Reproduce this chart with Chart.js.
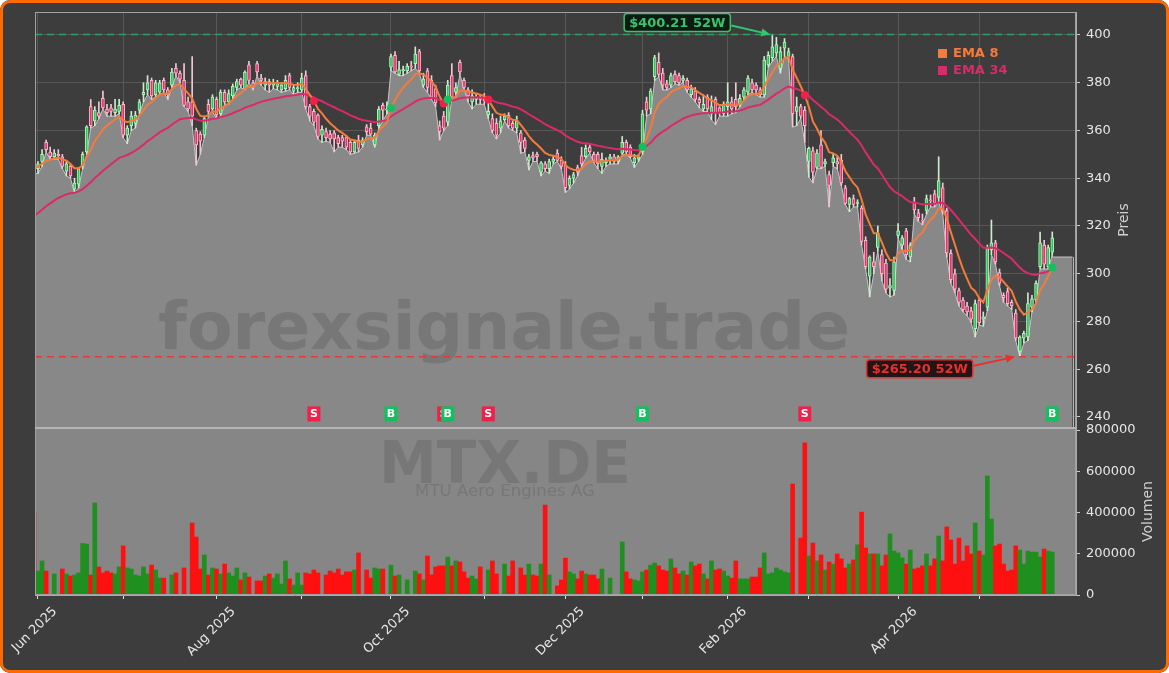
<!DOCTYPE html>
<html>
<head>
<meta charset="utf-8">
<script src="https://cdn.jsdelivr.net/npm/chart.js@4.4.1/dist/chart.umd.min.js"></script>
<style>
  html, body { margin: 0; padding: 0; background: #ffffff; }
  #wrap { position: relative; width: 1169px; height: 673px; border-radius: 10px; overflow: hidden; background: #3d3d3d; }
  #wrap canvas { position: absolute; left: 0; top: 0; }
  #frame { position: absolute; left: 0; top: 0; width: 1169px; height: 673px; box-sizing: border-box;
           border: 3px solid #ff6a00; border-radius: 10px; pointer-events: none; }
</style>
</head>
<body>
<div id="wrap"><canvas id="chart" width="1169" height="673"></canvas><div id="frame"></div></div>
<script>
// trading day index of the first candle (30 May 2025), one row per 10 days
var firstIdx = -1;

var opens = [346,
  344, 347, 355, 351, 349, 350, 349, 343, 345, 335.5,
  337.5, 345, 351, 370, 364, 367.5, 373.5, 369, 369.5, 367.5,
  368, 371, 358, 362, 363, 368.5, 375, 377, 381, 375,
  376, 381, 377, 379, 386, 384, 381, 372, 372, 360,
  358.5, 358, 371, 369, 373, 367, 376, 372, 374.5, 378,
  381.5, 377.5, 387.5, 380, 388, 382, 379, 380.5, 379, 378.5,
  377, 377.5, 383, 376.5, 377.5, 377, 383, 370, 368, 366.5,
  358, 359.5, 358.5, 359, 357, 357, 357, 355, 351, 356,
  354, 361.5, 361, 354, 362, 370.5, 368.5, 386.5, 391.5, 383.5,
  385, 385, 387, 388, 393, 379, 385, 381, 377.5, 362,
  366, 363.5, 383, 376, 388.5, 381, 377, 372, 373, 374,
  373, 366.5, 365, 363, 361, 364.5, 366.5, 363, 361, 359,
  356, 347.5, 349.5, 350, 342.5, 346, 344, 347, 350.5, 347.5,
  345.5, 337, 340, 344.5, 349.5, 349, 353, 350, 350, 345,
  346.5, 348, 349, 347, 350.5, 355, 353, 346.5, 348, 351,
  372, 369, 382.5, 388.5, 384, 379.5, 379, 383.5, 383, 381,
  381, 375, 376.5, 373, 369, 374, 367, 373, 369.5, 367,
  370, 372, 373, 371, 374, 376, 380, 379, 377, 375,
  387.5, 390.5, 392.5, 386, 394.5, 391, 391, 368, 370, 368.5,
  347, 351.5, 344.5, 354, 346, 341.5, 346.5, 347, 347.5, 336,
  329, 331.5, 329.5, 327.5, 314, 299, 305, 311, 308, 304.5,
  294, 293, 316, 312, 318, 307, 330, 325.5, 322.5, 326.5,
  331, 333.5, 332, 336, 326.5, 308.5, 300, 293, 289, 286.5,
  284.5, 277, 289, 281, 286, 310, 313, 300.5, 291, 292.5,
  288, 283.5, 267.5, 273, 273.5, 286, 289, 303, 312, 303, 309];

var highs = [347,
  347, 352, 356, 353, 352, 352, 350, 347, 346, 340,
  344.5, 351, 362, 373, 370, 372, 376.5, 371, 371, 373,
  373, 372, 362, 368, 368, 373, 380, 383, 382, 381,
  381, 382, 378, 386, 388, 385, 388, 374, 391, 361,
  359.5, 366, 373, 375, 374, 377, 377, 377, 379.5, 381.5,
  382, 385, 389, 381, 389, 383.5, 382, 381.5, 381.5, 381,
  380, 383, 384, 379, 380, 384, 385, 371, 369, 367,
  362, 361, 360, 360, 358, 358, 358, 356, 356, 358,
  357, 362.5, 363, 359, 370, 371.5, 372, 392, 393, 389,
  387, 388, 389, 395, 394, 384, 386, 383, 379, 364,
  368, 381, 388, 380, 389.5, 382, 378, 377, 375, 375,
  375.5, 374, 367, 365, 366, 367, 367.5, 364, 366, 360,
  357, 350, 351, 351, 347, 347, 348, 349, 352, 349,
  347, 341, 342.5, 345.5, 353, 354, 354, 351, 351, 350.5,
  348.5, 350, 350, 349.5, 357.5, 356, 354, 350, 350, 368.5,
  374, 377.5, 391.5, 392.5, 386, 381, 384, 385, 384, 383,
  382, 379, 378, 374, 375, 375, 374.5, 374, 370, 372,
  380, 374, 380, 375, 378, 383, 381.5, 380, 378, 391,
  393, 400.21, 399, 395, 398.5, 394.5, 392, 374, 371, 370,
  353, 353, 352, 360, 348, 343, 350, 349, 350, 337,
  332, 333, 331, 328.5, 315.5, 307.5, 309, 320, 310, 306,
  298, 307, 321, 316, 319, 313, 332, 327, 325, 333,
  333, 335, 349, 338, 327.5, 310, 302, 294, 290, 288,
  286, 289, 290, 284, 312, 322.5, 314, 302, 292, 294,
  289, 285, 274, 276, 292, 291, 297, 317.5, 314, 312, 317.5];

var lows = [342,
  342, 345, 351, 348, 348, 348, 344, 341, 340, 334,
  336, 344, 350, 361, 362, 365, 369, 366, 366, 366,
  367, 357, 354.5, 360, 361, 367, 372, 375, 373, 374,
  375, 376, 373, 378, 383, 380, 370, 368, 362, 345.5,
  350, 357, 366, 368, 365, 366, 371, 371, 373, 377,
  378, 377, 380, 377, 383, 379, 377, 376, 377.5, 377,
  376, 376.5, 377, 375, 376, 376, 369, 364, 362, 356.5,
  355, 355.5, 355, 351, 353, 353, 352, 350, 350.5, 351,
  353, 358, 358, 353, 361, 364, 367, 385, 384, 383,
  383, 384, 385, 386, 384, 378, 376, 373, 370, 356,
  360, 362, 373, 374, 383.5, 377.5, 372, 369, 371, 371,
  371, 365, 359, 356.5, 359, 364, 361, 360, 359, 350.5,
  351, 343.5, 347, 347, 341, 343, 342, 346, 347, 344,
  334, 335.5, 338, 341, 345, 348.5, 350.5, 346.5, 344, 342,
  345, 346, 346, 346, 350, 350, 348.5, 344.5, 347, 350,
  366, 367, 381, 382.5, 377, 377, 378, 379.5, 379, 380,
  376, 374, 372, 369.5, 368, 368, 364.5, 362.5, 366, 366,
  366, 367, 367.5, 370, 373, 375, 376, 375, 374, 374,
  386.5, 389, 391, 384, 391, 390, 361.5, 362, 365, 355,
  340.5, 338, 344, 344, 345, 328, 345, 344, 337, 329,
  326, 328, 328, 312, 302, 290.3, 300, 309.5, 297, 292,
  290.3, 291, 315, 310, 306, 305, 325, 322, 320.5, 325,
  328, 328, 330, 325, 307, 296, 292, 286.5, 284, 282.5,
  279.5, 273.5, 278.5, 278, 284.5, 308, 304, 295, 288, 286.5,
  285, 272, 265.2, 271, 272, 284, 288, 302, 302, 302, 308];

var closes = [343.5,
  346, 350, 352, 349, 350.5, 349.5, 345, 346, 341, 338,
  344, 350, 361.5, 362, 368.5, 366, 369.5, 367.5, 368, 369,
  370.5, 358, 361, 366, 366.5, 372, 376, 380, 374.5, 380,
  380, 377, 375, 384.5, 384, 381.5, 370.5, 369, 366, 354,
  355.5, 365, 368, 374, 366.5, 376, 372, 375.5, 378.5, 380.5,
  379, 384.5, 381, 378.5, 384.5, 381, 380.5, 379, 380, 380,
  379, 381, 378, 378, 378, 382, 370, 366, 363.5, 357.5,
  360.5, 357, 356.5, 356.5, 354.5, 355.5, 353, 351, 355, 352.5,
  356, 359.5, 358.5, 358, 369, 368.5, 369, 391, 384.5, 385.5,
  385.5, 387, 386.5, 392, 385, 381.5, 378, 374, 371.5, 359.5,
  361, 379, 374, 378, 384.5, 378, 374.5, 374.5, 374, 373,
  372.5, 368, 360, 358, 364, 366, 362, 361, 364, 355,
  352.5, 349, 348.5, 349, 346.5, 344, 347, 348, 347.5, 345,
  336, 340, 341.5, 342.5, 346, 352.5, 351, 347.5, 346, 348,
  347.5, 349, 347, 349, 355, 351, 349, 348.5, 349, 367,
  368.5, 376.5, 390.5, 383.5, 379, 378, 383, 380.5, 380, 382,
  377, 377.5, 373, 371.5, 371, 369, 370, 367.5, 367.5, 371,
  372, 369, 370, 373.5, 377, 382, 377, 377, 375, 389.5,
  391.5, 395, 396, 393, 397, 393, 367, 370, 366, 362,
  352.5, 342.5, 350.5, 344.5, 347, 337, 348.5, 346, 338, 329.5,
  331.5, 329, 330, 313.5, 303, 307, 303, 317, 300, 293.5,
  295, 305, 318, 315, 308, 312, 326.7, 323.5, 322, 331.5,
  330.5, 329.5, 339, 326.5, 308.7, 297.5, 293.5, 288, 285, 284,
  281, 287.5, 279.5, 282, 311, 313, 305, 296, 290, 287.5,
  286.5, 273, 273.5, 275, 287.5, 289.5, 296, 313, 304, 311, 315];

var volumes = [404000,
  116000, 165000, 116000, 0, 102000, 0, 126000, 102000, 92000, 97000,
  107000, 250000, 247000, 97000, 446000, 136000, 107000, 116000, 107000, 102000,
  136000, 238000, 131000, 126000, 97000, 92000, 136000, 102000, 145000, 121000,
  82000, 82000, 0, 97000, 107000, 0, 131000, 0, 349000, 281000,
  126000, 194000, 97000, 131000, 126000, 102000, 150000, 107000, 92000, 131000,
  73000, 107000, 87000, 0, 68000, 68000, 92000, 102000, 82000, 102000,
  53000, 165000, 78000, 48000, 107000, 48000, 107000, 102000, 121000, 107000,
  0, 97000, 116000, 107000, 126000, 97000, 112000, 112000, 121000, 204000,
  0, 121000, 82000, 131000, 126000, 126000, 0, 145000, 92000, 97000,
  0, 73000, 0, 116000, 102000, 73000, 189000, 97000, 136000, 141000,
  141000, 184000, 141000, 165000, 160000, 112000, 82000, 92000, 78000, 136000,
  0, 121000, 165000, 102000, 0, 150000, 92000, 165000, 0, 131000,
  97000, 150000, 97000, 92000, 150000, 436000, 97000, 0, 44000, 73000,
  179000, 112000, 102000, 78000, 116000, 102000, 97000, 97000, 78000, 126000,
  0, 82000, 0, 0, 257000, 112000, 78000, 73000, 68000, 112000,
  121000, 145000, 155000, 141000, 121000, 116000, 175000, 131000, 102000, 116000,
  97000, 160000, 141000, 150000, 102000, 78000, 165000, 121000, 126000, 116000,
  92000, 82000, 165000, 78000, 78000, 78000, 87000, 87000, 131000, 204000,
  102000, 107000, 131000, 121000, 112000, 107000, 538000, 0, 276000, 738000,
  189000, 252000, 165000, 194000, 121000, 160000, 150000, 199000, 175000, 131000,
  150000, 170000, 243000, 402000, 228000, 199000, 199000, 199000, 141000, 194000,
  296000, 213000, 204000, 180000, 150000, 218000, 126000, 131000, 141000, 199000,
  141000, 175000, 286000, 165000, 330000, 267000, 150000, 276000, 165000, 238000,
  199000, 349000, 213000, 194000, 577000, 368000, 238000, 247000, 150000, 116000,
  121000, 238000, 218000, 150000, 213000, 208000, 208000, 184000, 223000, 213000, 208000];

// first trading day of each month, labels on every second month
var monthTicks = [0, 21, 44, 65, 87, 110, 130, 149, 170, 190, 212, 232];
var monthLabels = ['Jun 2025', '', 'Aug 2025', '', 'Oct 2025', '', 'Dec 2025', '', 'Feb 2026', '', 'Apr 2026', ''];
var priceTicks = [240, 260, 280, 300, 320, 340, 360, 380, 400];
var volumeTicks = [0, 200000, 400000, 600000, 800000];

// EMA crossing signals
var signalIdx = [68, 87, 100, 101, 111, 149, 189, 250];
var signalType = ['S', 'B', 'S', 'B', 'S', 'B', 'S', 'B'];

// price band after the last candle
var tailEnd = 255;
var tailLevel = 307;

// EMA start values carried over from before the window
var ema8Seed = 345;
var ema34Seed = 323;

var UP = '#2fc45c', DOWN = '#e5336a';
var EMA8_COLOR = '#f47b3a', EMA34_COLOR = '#db2a69';

function ema(values, period, seed) {
  var a = 2 / (period + 1), e = seed;
  return values.map(function(v) { e = a * v + (1 - a) * e; return e; });
}

var ema8 = ema(closes, 8, ema8Seed);
var ema34 = ema(closes, 34, ema34Seed);
var isUp = closes.map(function(c, i) { return c >= opens[i]; });
function xy(arr) { return arr.map(function(v, i) { return { x: i + firstIdx, y: v }; }); }
var lastIdx = firstIdx + closes.length - 1;
var areaPoints = xy(lows).concat([{ x: lastIdx, y: tailLevel }, { x: tailEnd, y: tailLevel }]);

var decor = {
  id: 'decor',
  beforeDatasetsDraw: function(chart) {
    var ctx = chart.ctx, a = chart.chartArea, yv = chart.scales.yv;
    ctx.save();
    ctx.fillStyle = '#868686';
    ctx.fillRect(a.left, yv.top, a.right - a.left, yv.bottom - yv.top);
    ctx.restore();
  },
  afterDatasetsDraw: function(chart) {
    var ctx = chart.ctx, a = chart.chartArea, x = chart.scales.x, y = chart.scales.y;
    ctx.save();
    // right edge of the band after the last candle
    var ex = Math.round(x.getPixelForValue(tailEnd)) + 0.5;
    ctx.strokeStyle = '#b8b8b8'; ctx.lineWidth = 1;
    ctx.beginPath(); ctx.moveTo(ex, y.getPixelForValue(tailLevel)); ctx.lineTo(ex, y.bottom); ctx.stroke();

    // watermark
    function fit(text, weight, width, cx, baseY, color) {
      ctx.font = weight + ' 100px "DejaVu Sans"';
      var size = 100 * width / ctx.measureText(text).width;
      ctx.font = weight + ' ' + size + 'px "DejaVu Sans"';
      ctx.fillStyle = color;
      ctx.textAlign = 'center';
      ctx.textBaseline = 'alphabetic';
      ctx.fillText(text, cx, baseY);
    }
    fit('forexsignale.trade', 'bold', 692, 504, 349, 'rgba(60,60,60,0.22)');
    fit('MTX.DE', 'bold', 252, 505, 483, 'rgba(60,60,60,0.2)');
    fit('MTU Aero Engines AG', 'normal', 180, 505, 496, 'rgba(60,60,60,0.2)');

    // 52 week high / low
    var hi = Math.max.apply(null, highs), lo = Math.min.apply(null, lows);
    var hiI = highs.indexOf(hi) + firstIdx, loI = lows.indexOf(lo) + firstIdx;
    function hline(v, color) {
      ctx.beginPath();
      ctx.setLineDash([7, 5]);
      ctx.lineWidth = 1.5;
      ctx.strokeStyle = color;
      var py = y.getPixelForValue(v);
      ctx.moveTo(a.left, py); ctx.lineTo(a.right, py);
      ctx.stroke();
      ctx.setLineDash([]);
    }
    hline(hi, '#2f9e5f');
    hline(lo, '#e03a3a');

    function tag(text, bx, cy, fg, bg, tipX, tipY) {
      ctx.font = 'bold 13px "DejaVu Sans"';
      var w = ctx.measureText(text).width + 10, h = 18;
      var left = bx - w;
      ctx.beginPath();
      ctx.roundRect(left, cy - h / 2, w, h, 3);
      ctx.fillStyle = bg; ctx.fill();
      ctx.lineWidth = 1.5; ctx.strokeStyle = fg; ctx.stroke();
      ctx.fillStyle = fg; ctx.textAlign = 'center'; ctx.textBaseline = 'middle';
      ctx.fillText(text, left + w / 2, cy + 1);
      // arrow
      var sx = bx + 1, sy = cy + (tipY > cy ? 3 : -3);
      var ang = Math.atan2(tipY - sy, tipX - sx);
      ctx.beginPath(); ctx.lineWidth = 2; ctx.strokeStyle = fg;
      ctx.moveTo(sx, sy); ctx.lineTo(tipX - 6 * Math.cos(ang), tipY - 6 * Math.sin(ang)); ctx.stroke();
      ctx.beginPath(); ctx.fillStyle = fg;
      ctx.moveTo(tipX, tipY);
      ctx.lineTo(tipX - 9 * Math.cos(ang) + 4 * Math.sin(ang), tipY - 9 * Math.sin(ang) - 4 * Math.cos(ang));
      ctx.lineTo(tipX - 9 * Math.cos(ang) - 4 * Math.sin(ang), tipY - 9 * Math.sin(ang) + 4 * Math.cos(ang));
      ctx.closePath(); ctx.fill();
    }
    var hx = x.getPixelForValue(hiI) - 2, hy = y.getPixelForValue(hi);
    tag('$' + hi.toFixed(2) + ' 52W', hx - 40, hy - 12, '#35c46f', '#0f1a13', hx, hy);
    var lx = x.getPixelForValue(loI) - 5, ly = y.getPixelForValue(lo);
    tag('$' + lo.toFixed(2) + ' 52W', lx - 42, ly + 12, '#e8302f', '#231515', lx, ly);

    // signal dots on the EMA 8 and markers at the bottom of the price panel
    signalIdx.forEach(function(si, k) {
      var col = signalType[k] === 'S' ? '#f0204a' : '#12c05e';
      var px = x.getPixelForValue(si), py = y.getPixelForValue(ema8[si - firstIdx]);
      ctx.beginPath(); ctx.arc(px, py, 4, 0, Math.PI * 2); ctx.fillStyle = col; ctx.fill();
      var my = y.getPixelForValue(241.3);
      ctx.fillStyle = col;
      ctx.fillRect(px - 6.5, my - 7.5, 13, 15);
      ctx.fillStyle = '#ffffff'; ctx.font = 'bold 11px "DejaVu Sans"';
      ctx.textAlign = 'center'; ctx.textBaseline = 'middle';
      ctx.fillText(signalType[k], px, my + 0.5);
    });

    // legend
    ctx.font = 'bold 13px "DejaVu Sans"'; ctx.textAlign = 'left'; ctx.textBaseline = 'middle';
    ctx.fillStyle = EMA8_COLOR; ctx.fillRect(938, 49, 9, 9); ctx.fillText('EMA 8', 953, 54);
    ctx.fillStyle = EMA34_COLOR; ctx.fillRect(938, 66, 9, 9); ctx.fillText('EMA 34', 953, 71);

    // frame
    ctx.strokeStyle = '#a0a0a0'; ctx.lineWidth = 1;
    ctx.strokeRect(a.left + 0.5, a.top + 0.5, a.right - a.left - 1, a.bottom - a.top - 1);
    ctx.strokeStyle = '#b4b4b4'; ctx.lineWidth = 2;
    ctx.beginPath(); ctx.moveTo(a.left, y.bottom); ctx.lineTo(a.right, y.bottom); ctx.stroke();
    ctx.restore();
  },
  afterDraw: function(chart) {
    var ctx = chart.ctx, y = chart.scales.y, yv = chart.scales.yv;
    ctx.save();
    ctx.fillStyle = '#d0d0d0'; ctx.font = '14px "DejaVu Sans"';
    ctx.textAlign = 'center'; ctx.textBaseline = 'middle';
    [['Preis', 1124, (y.top + y.bottom) / 2], ['Volumen', 1148, (yv.top + yv.bottom) / 2]].forEach(function(t) {
      ctx.save(); ctx.translate(t[1], t[2]); ctx.rotate(-Math.PI / 2); ctx.fillText(t[0], 0, 0); ctx.restore();
    });
    ctx.restore();
  }
};

var tickFont = { family: 'DejaVu Sans', size: 13 };

new Chart(document.getElementById('chart'), {
  type: 'bar',
  data: {
    datasets: [
      { type: 'line', data: areaPoints, yAxisID: 'y', fill: 'start', backgroundColor: '#888888',
        borderColor: '#c6c6c6', borderWidth: 1, pointRadius: 0, order: 10 },
      { data: xy(volumes), yAxisID: 'yv', barThickness: 4, grouped: false, order: 9,
        backgroundColor: isUp.map(function(u) { return u ? '#1f8f1f' : '#ff1010'; }) },
      { data: lows.map(function(l, i) { return { x: i + firstIdx, y: [l, highs[i]] }; }), yAxisID: 'y',
        barThickness: 1, grouped: false, order: 5,
        backgroundColor: isUp.map(function(u) { return u ? '#cdeccd' : '#f2c6d4'; }) },
      { data: opens.map(function(o, i) { return { x: i + firstIdx, y: [o, closes[i]] }; }), yAxisID: 'y',
        barThickness: 3, grouped: false, order: 4, minBarLength: 1, borderWidth: 1, borderSkipped: false,
        backgroundColor: isUp.map(function(u) { return u ? UP : DOWN; }),
        borderColor: isUp.map(function(u) { return u ? '#b9f0bf' : '#ffb6cb'; }) },
      { type: 'line', data: xy(ema34), yAxisID: 'y', borderColor: EMA34_COLOR, borderWidth: 2,
        pointRadius: 0, fill: false, order: 2 },
      { type: 'line', data: xy(ema8), yAxisID: 'y', borderColor: EMA8_COLOR, borderWidth: 2,
        pointRadius: 0, fill: false, order: 1 }
    ]
  },
  options: {
    responsive: false,
    animation: false,
    events: [],
    layout: { padding: { left: 35, top: 12, right: 0, bottom: 0 } },
    plugins: { legend: { display: false }, tooltip: { enabled: false } },
    scales: {
      x: {
        type: 'linear', position: 'bottom', min: -0.739, max: 255.85, offset: false,
        afterBuildTicks: function(s) { s.ticks = monthTicks.map(function(v) { return { value: v }; }); },
        afterFit: function(s) { s.height = 78; s.paddingLeft = 0; s.paddingRight = 0; },
        ticks: { autoSkip: false, minRotation: 45, maxRotation: 45, color: '#e6e6e6', font: tickFont,
                 labelOffset: 17, padding: 5,
                 callback: function(v, i) { return monthLabels[i]; } },
        grid: { color: '#585858', tickColor: '#dddddd', tickLength: 4, offset: false },
        border: { color: '#aaaaaa' }
      },
      y: {
        type: 'linear', position: 'right', stack: 'panels', stackWeight: 416, min: 235.39, max: 409.63,
        afterBuildTicks: function(s) { s.ticks = priceTicks.map(function(v) { return { value: v }; }); },
        afterFit: function(s) { s.width = 93; s.paddingTop = 0; s.paddingBottom = 0; },
        ticks: { color: '#e6e6e6', font: tickFont, padding: 6 },
        grid: { color: '#585858', tickColor: '#cccccc', tickLength: 4 },
        border: { color: '#aaaaaa' }
      },
      yv: {
        type: 'linear', position: 'right', stack: 'panels', stackWeight: 167, min: 0, max: 809700,
        afterBuildTicks: function(s) { s.ticks = volumeTicks.map(function(v) { return { value: v }; }); },
        afterFit: function(s) { s.width = 93; s.paddingTop = 0; s.paddingBottom = 0; },
        ticks: { color: '#e6e6e6', font: tickFont, padding: 6, callback: function(v) { return String(v); } },
        grid: { drawOnChartArea: false, tickColor: '#cccccc', tickLength: 4 },
        border: { color: '#aaaaaa' }
      }
    }
  },
  plugins: [decor]
});
</script>
</body>
</html>
